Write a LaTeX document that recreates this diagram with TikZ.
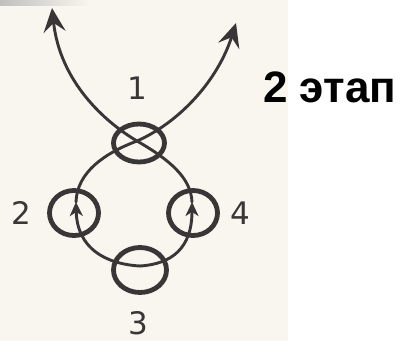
\documentclass[tikz,border=0pt]{standalone}
\usepackage{fontspec}
\newfontfamily\labelfont{Liberation Sans}
\newfontfamily\digitfont{DejaVu Sans}
\usetikzlibrary{shapes.geometric,arrows.meta}
\definecolor{ink}{HTML}{383636}
\definecolor{paper}{HTML}{F8F6EE}
\tikzset{
  ring/.style={draw=ink, ellipse, line width=4.8pt, inner sep=0pt},
  flow/.style={draw=ink, line width=2.9pt, line cap=round},
  bighead/.style={-{Stealth[length=24pt,width=22pt,inset=9pt]}},
  smallhead/.style={-{Stealth[length=14pt,width=13pt,inset=4pt]}},
  num/.style={text=ink, font=\digitfont\fontsize{31}{31}\selectfont, inner sep=0pt},
  title/.style={text=black, font=\labelfont\bfseries\fontsize{44}{44}\selectfont, inner sep=0pt}
}
\begin{document}
\begin{tikzpicture}[x=1pt,y=-1pt]
\useasboundingbox (0,0) rectangle (412,341);
\fill[white] (0,0) rectangle (412,341);
\fill[paper] (0,0) rectangle (288,341);
\shade[left color=black!25, right color=paper] (0,0) rectangle (90,5);

% circles
\node[ring, minimum width=51pt, minimum height=38pt] (c1) at (139,143) {};
\node[ring, minimum width=49pt, minimum height=45pt] (c2) at (74,213) {};
\node[ring, minimum width=49pt, minimum height=45pt] (c4) at (193,213) {};
\node[ring, minimum width=53pt, minimum height=45pt] (c3) at (140,270) {};

% curve points
\coordinate (u) at (140,266);
\coordinate (x) at (137,141);
\coordinate (a2) at (76,202);
\coordinate (a4) at (192,202);
\coordinate (tl) at (52,8);
\coordinate (tr) at (236,23);

% left branch: 3 -> 2 -> 1 -> upper right
\draw[flow, smallhead] (u) .. controls (105,264) and (77,248) .. (a2);
\draw[flow, bighead] (a2) .. controls (77,172) and (105,153) .. (x)
   .. controls (180,122) and (218,80) .. (tr);
% right branch: 3 -> 4 -> 1 -> upper left
\draw[flow, smallhead] (u) .. controls (172,264) and (192,248) .. (a4);
\draw[flow, bighead] (a4) .. controls (191,178) and (170,160) .. (x)
   .. controls (105,122) and (60,82) .. (tl);

% labels
\node[num] (l1) at (137,88) {1};
\node[num] (l2) at (21,213) {2};
\node[num] (l4) at (240,213) {4};
\node[num] (l3) at (138,323) {3};

\node[title, anchor=base west] (t) at (263,102) {2 этап};
\end{tikzpicture}
\end{document}
